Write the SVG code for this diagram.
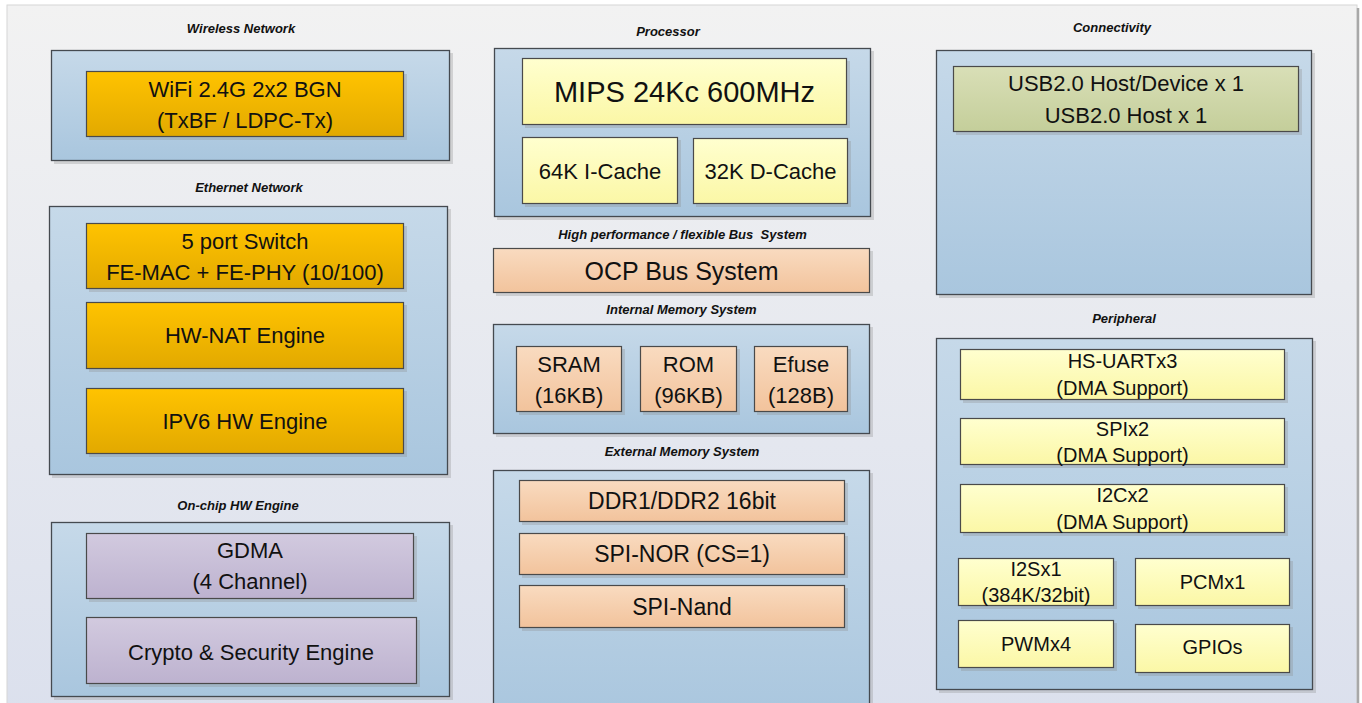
<svg xmlns="http://www.w3.org/2000/svg" width="1362" height="703" viewBox="0 0 1362 703">
<defs>
<linearGradient id="gBg" x1="0" y1="0" x2="0" y2="1"><stop offset="0" stop-color="#f2f2f2"/><stop offset="1" stop-color="#dbe0ed"/></linearGradient>
<linearGradient id="gBlue" x1="0" y1="0" x2="0" y2="1"><stop offset="0" stop-color="#c6d9e9"/><stop offset="1" stop-color="#a9c6de"/></linearGradient>
<linearGradient id="gOrange" x1="0" y1="0" x2="0" y2="1"><stop offset="0" stop-color="#ffc300"/><stop offset="1" stop-color="#e2a900"/></linearGradient>
<linearGradient id="gYellow" x1="0" y1="0" x2="0" y2="1"><stop offset="0" stop-color="#ffffcf"/><stop offset="1" stop-color="#fbf7a6"/></linearGradient>
<linearGradient id="gPeach" x1="0" y1="0" x2="0" y2="1"><stop offset="0" stop-color="#f9dbc0"/><stop offset="1" stop-color="#f2c39c"/></linearGradient>
<linearGradient id="gPurple" x1="0" y1="0" x2="0" y2="1"><stop offset="0" stop-color="#d2cadf"/><stop offset="1" stop-color="#bdb2cf"/></linearGradient>
<linearGradient id="gGreen" x1="0" y1="0" x2="0" y2="1"><stop offset="0" stop-color="#d9dfb7"/><stop offset="1" stop-color="#c4ce9a"/></linearGradient>
</defs>
<style>
.sh{fill:#8a8a8a;opacity:.3}
.cont{fill:url(#gBlue);stroke:#454a50;stroke-width:1.3}
.box{stroke:#4a4a4a;stroke-width:1.2}
.or{fill:url(#gOrange)}
.ye{fill:url(#gYellow)}
.pe{fill:url(#gPeach)}
.pu{fill:url(#gPurple)}
.gr{fill:url(#gGreen)}
text{font-family:"Liberation Sans",Arial,sans-serif;fill:#111;text-anchor:middle}
.ttl{font-size:13px;font-weight:bold;font-style:italic}
.f20{font-size:20px}
.f22{font-size:22px}
.f23{font-size:23px}
.f25{font-size:25px}
.f29{font-size:29px}
</style>
<rect x="7" y="5" width="1350" height="720" fill="url(#gBg)" stroke="#d6d6d6" stroke-width="1"/>
<line x1="1358" y1="8" x2="1358" y2="703" stroke="#a8a8a8" stroke-width="2.5"/>

<g id="wireless">
<text class="ttl" x="241" y="33">Wireless Network</text>
<rect class="sh" x="54" y="53" width="399" height="111"/>
<rect class="cont" x="51.5" y="50.5" width="398" height="110"/>
<g id="wifi">
<rect class="sh" x="89" y="74" width="318" height="66"/>
<rect class="box or" x="86.5" y="71.5" width="317" height="65"/>
<text class="f22" x="245" y="97">WiFi 2.4G 2x2 BGN</text>
<text class="f22" x="245" y="128">(TxBF / LDPC-Tx)</text>
</g>
</g>

<g id="ethernet">
<text class="ttl" x="249" y="192">Ethernet Network</text>
<rect class="sh" x="52" y="209" width="399" height="269"/>
<rect class="cont" x="49.5" y="206.5" width="398" height="268"/>
<g id="switch">
<rect class="sh" x="89" y="226" width="318" height="66"/>
<rect class="box or" x="86.5" y="223.5" width="317" height="65"/>
<text class="f22" x="245" y="249">5 port Switch</text>
<text class="f22" x="245" y="280">FE-MAC + FE-PHY (10/100)</text>
</g>
<g id="hwnat">
<rect class="sh" x="89" y="305" width="318" height="67"/>
<rect class="box or" x="86.5" y="302.5" width="317" height="66"/>
<text class="f22" x="245" y="343">HW-NAT Engine</text>
</g>
<g id="ipv6">
<rect class="sh" x="89" y="391" width="318" height="66"/>
<rect class="box or" x="86.5" y="388.5" width="317" height="65"/>
<text class="f22" x="245" y="429">IPV6 HW Engine</text>
</g>
</g>

<g id="hwengine">
<text class="ttl" x="238" y="510">On-chip HW Engine</text>
<rect class="sh" x="54" y="525" width="399" height="175"/>
<rect class="cont" x="51.5" y="522.5" width="398" height="174"/>
<g id="gdma">
<rect class="sh" x="89" y="536" width="328" height="66"/>
<rect class="box pu" x="86.5" y="533.5" width="327" height="65"/>
<text class="f22" x="250" y="558">GDMA</text>
<text class="f22" x="250" y="589">(4 Channel)</text>
</g>
<g id="crypto">
<rect class="sh" x="89" y="620" width="331" height="67"/>
<rect class="box pu" x="86.5" y="617.5" width="330" height="66"/>
<text class="f22" x="251" y="660">Crypto &amp; Security Engine</text>
</g>
</g>

<g id="processor">
<text class="ttl" x="668" y="36">Processor</text>
<rect class="sh" x="497" y="51" width="377" height="169"/>
<rect class="cont" x="494.5" y="48.5" width="376" height="168"/>
<g id="mips">
<rect class="sh" x="525" y="61" width="325" height="67"/>
<rect class="box ye" x="522.5" y="58.5" width="324" height="66"/>
<text class="f29" x="684.5" y="102">MIPS 24Kc 600MHz</text>
</g>
<g id="icache">
<rect class="sh" x="525" y="140" width="156" height="67"/>
<rect class="box ye" x="522.5" y="137.5" width="155" height="66"/>
<text class="f22" x="600" y="179">64K I-Cache</text>
</g>
<g id="dcache">
<rect class="sh" x="696" y="141" width="155" height="66"/>
<rect class="box ye" x="693.5" y="138.5" width="154" height="65"/>
<text class="f22" x="770.5" y="179">32K D-Cache</text>
</g>
</g>

<g id="bus">
<text class="ttl" x="682.5" y="239">High performance / flexible Bus&#160; System</text>
<g id="ocp">
<rect class="sh" x="496" y="251" width="377" height="45"/>
<rect class="box pe" x="493.5" y="248.5" width="376" height="44"/>
<text class="f25" x="681.5" y="280">OCP Bus System</text>
</g>
</g>

<g id="intmem">
<text class="ttl" x="681.5" y="314">Internal Memory System</text>
<rect class="sh" x="496" y="327" width="377" height="110"/>
<rect class="cont" x="493.5" y="324.5" width="376" height="109"/>
<g id="sram">
<rect class="sh" x="519" y="349" width="106" height="66"/>
<rect class="box pe" x="516.5" y="346.5" width="105" height="65"/>
<text class="f22" x="569" y="372">SRAM</text>
<text class="f22" x="569" y="403">(16KB)</text>
</g>
<g id="rom">
<rect class="sh" x="643" y="349" width="97" height="66"/>
<rect class="box pe" x="640.5" y="346.5" width="96" height="65"/>
<text class="f22" x="688.5" y="372">ROM</text>
<text class="f22" x="688.5" y="403">(96KB)</text>
</g>
<g id="efuse">
<rect class="sh" x="757" y="349" width="94" height="66"/>
<rect class="box pe" x="754.5" y="346.5" width="93" height="65"/>
<text class="f22" x="801" y="372">Efuse</text>
<text class="f22" x="801" y="403">(128B)</text>
</g>
</g>

<g id="extmem">
<text class="ttl" x="682" y="456">External Memory System</text>
<rect class="sh" x="496" y="473" width="377" height="250"/>
<rect class="cont" x="493.5" y="470.5" width="376" height="250"/>
<g id="ddr">
<rect class="sh" x="522" y="483" width="326" height="42"/>
<rect class="box pe" x="519.5" y="480.5" width="325" height="41"/>
<text class="f23" x="682" y="509">DDR1/DDR2 16bit</text>
</g>
<g id="spinor">
<rect class="sh" x="522" y="536" width="326" height="42"/>
<rect class="box pe" x="519.5" y="533.5" width="325" height="41"/>
<text class="f23" x="682" y="562">SPI-NOR (CS=1)</text>
</g>
<g id="spinand">
<rect class="sh" x="522" y="588" width="326" height="43"/>
<rect class="box pe" x="519.5" y="585.5" width="325" height="42"/>
<text class="f23" x="682" y="615">SPI-Nand</text>
</g>
</g>

<g id="connectivity">
<text class="ttl" x="1112" y="32">Connectivity</text>
<rect class="sh" x="939" y="53" width="376" height="245"/>
<rect class="cont" x="936.5" y="50.5" width="375" height="244"/>
<g id="usb">
<rect class="sh" x="956" y="69" width="346" height="66"/>
<rect class="box gr" x="953.5" y="66.5" width="345" height="65"/>
<text class="f22" x="1126" y="91">USB2.0 Host/Device x 1</text>
<text class="f22" x="1126" y="123">USB2.0 Host x 1</text>
</g>
</g>

<g id="peripheral">
<text class="ttl" x="1124" y="323">Peripheral</text>
<rect class="sh" x="939" y="341" width="377" height="352"/>
<rect class="cont" x="936.5" y="338.5" width="376" height="351"/>
<g id="uart">
<rect class="sh" x="963" y="352" width="325" height="51"/>
<rect class="box ye" x="960.5" y="349.5" width="324" height="50"/>
<text class="f20" x="1122.5" y="368">HS-UARTx3</text>
<text class="f20" x="1122.5" y="395">(DMA Support)</text>
</g>
<g id="spi">
<rect class="sh" x="963" y="421" width="325" height="47"/>
<rect class="box ye" x="960.5" y="418.5" width="324" height="46"/>
<text class="f20" x="1122.5" y="436">SPIx2</text>
<text class="f20" x="1122.5" y="462">(DMA Support)</text>
</g>
<g id="i2c">
<rect class="sh" x="963" y="487" width="325" height="49"/>
<rect class="box ye" x="960.5" y="484.5" width="324" height="48"/>
<text class="f20" x="1122.5" y="502">I2Cx2</text>
<text class="f20" x="1122.5" y="529">(DMA Support)</text>
</g>
<g id="i2s">
<rect class="sh" x="961" y="561" width="156" height="48"/>
<rect class="box ye" x="958.5" y="558.5" width="155" height="47"/>
<text class="f20" x="1036" y="576">I2Sx1</text>
<text class="f20" x="1036" y="602">(384K/32bit)</text>
</g>
<g id="pcm">
<rect class="sh" x="1138" y="561" width="155" height="48"/>
<rect class="box ye" x="1135.5" y="558.5" width="154" height="47"/>
<text class="f20" x="1212.5" y="589">PCMx1</text>
</g>
<g id="pwm">
<rect class="sh" x="961" y="623" width="156" height="48"/>
<rect class="box ye" x="958.5" y="620.5" width="155" height="47"/>
<text class="f20" x="1036" y="651">PWMx4</text>
</g>
<g id="gpio">
<rect class="sh" x="1138" y="627" width="155" height="49"/>
<rect class="box ye" x="1135.5" y="624.5" width="154" height="48"/>
<text class="f20" x="1212.5" y="654">GPIOs</text>
</g>
</g>

<g id="connectors"/>
</svg>
